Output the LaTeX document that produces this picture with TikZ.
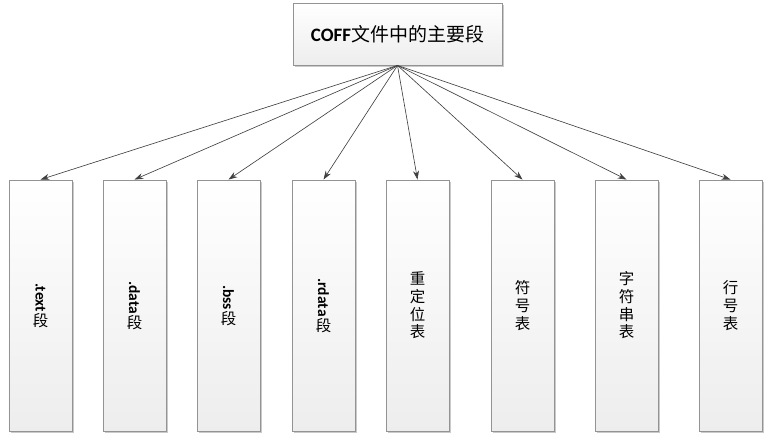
\documentclass[tikz,border=0pt]{standalone}
\usepackage{fontspec}
\setmainfont{Carlito}
\newfontfamily\cjk{Noto Sans CJK SC}
\usepackage{graphicx}
\usetikzlibrary{arrows.meta,shadows}

\tikzset{
    seg/.style={draw=gray!85, line width=0.6pt, top color=white, bottom color=gray!14,
                drop shadow={shadow xshift=0.05cm, shadow yshift=-0.05cm, fill=gray!70, opacity=0.6},
                minimum width=1.575cm, minimum height=6.275cm, inner sep=0pt, align=center,
                font=\fontsize{11}{12.6}\selectfont},
    cjkseg/.style={seg, font=\fontsize{11}{12.6}\selectfont\cjk},
    head/.style={seg, minimum width=5.225cm, minimum height=1.55cm,
                 font=\fontsize{13.5}{16}\selectfont},
    link/.style={draw=black!75, line width=0.45pt, -{Stealth[length=2.2mm,width=1.5mm]}}
}

\begin{document}
\begin{tikzpicture}
    \useasboundingbox (0,0) rectangle (19.3,10.925);

    % the root box
    \node[head] (coff) at (9.9375,10.075) {{\bfseries COFF}{\cjk 文件中的主要段}};

    % the sections
    \node[seg] (text)   at (1.0125,3.2875)  {\rotatebox{-90}{\bfseries .text}\\{\cjk 段}};
    \node[seg] (data)   at (3.3625,3.2875)  {\rotatebox{-90}{\bfseries .data}\\{\cjk 段}};
    \node[seg] (bss)    at (5.7125,3.2875)  {\rotatebox{-90}{\bfseries .bss}\\{\cjk 段}};
    \node[seg] (rdata)  at (8.0875,3.2875)  {\rotatebox{-90}{\bfseries .rdata}\\{\cjk 段}};
    \node[cjkseg] (reloc)  at (10.4375,3.2875) {重\\定\\位\\表};
    \node[cjkseg] (symtab) at (13.0625,3.2875) {符\\号\\表};
    \node[cjkseg] (strtab) at (15.6625,3.2875) {字\\符\\串\\表};
    \node[cjkseg] (lines)  at (18.2625,3.2875) {行\\号\\表};

    % the links
    \foreach \s in {text,data,bss,rdata,reloc,symtab,strtab,lines}
        \draw[link] (coff.south) -- (\s.north);
\end{tikzpicture}
\end{document}
